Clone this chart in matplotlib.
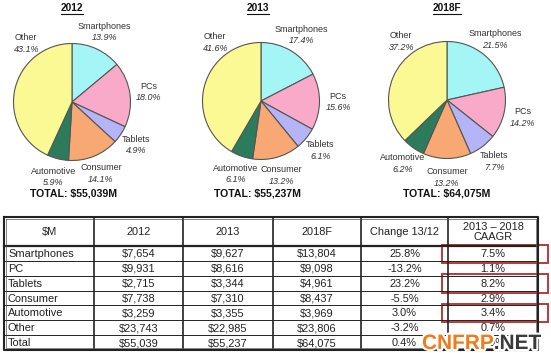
import matplotlib.pyplot as plt
import matplotlib.patheffects as pe
import numpy as np

plt.rcParams['font.family'] = ['Liberation Sans', 'DejaVu Sans']

# pie data (percent shares shown on the charts)
segments = ['Smartphones', 'PCs', 'Tablets', 'Consumer', 'Automotive', 'Other']
years = ['2012', '2013', '2018F']
share_2012 = [13.9, 18.0, 4.9, 14.1, 5.9, 43.1]
share_2013 = [17.4, 15.6, 6.1, 13.2, 6.1, 41.6]
share_2018 = [21.5, 14.2, 7.7, 13.2, 6.2, 37.2]
totals = ['TOTAL: $55,039M', 'TOTAL: $55,237M', 'TOTAL: $64,075M']
colors = ['#a4f6f6', '#f8aac8', '#b4b4f6', '#f8a872', '#2c7b5c', '#fbf994']

# table data
header = ['$M', '2012', '2013', '2018F', 'Change 13/12', '2013 \u2013 2018\nCAAGR']
row_names = ['Smartphones', 'PC', 'Tablets', 'Consumer', 'Automotive', 'Other', 'Total']
v2012 = ['$7,654', '$9,931', '$2,715', '$7,738', '$3,259', '$23,743', '$55,039']
v2013 = ['$9,627', '$8,616', '$3,344', '$7,310', '$3,355', '$22,985', '$55,237']
v2018 = ['$13,804', '$9,098', '$4,961', '$8,437', '$3,969', '$23,806', '$64,075']
change = ['25.8%', '-13.2%', '23.2%', '-5.5%', '3.0%', '-3.2%', '0.4%']
caagr = ['7.5%', '1.1%', '8.2%', '2.9%', '3.4%', '0.7%', '3.0%']
highlighted = ['Smartphones', 'Tablets', 'Automotive']

W, H = 551, 353
fig = plt.figure(figsize=(W / 100, H / 100), dpi=100)
fig.patch.set_facecolor('white')

# overlay axes in pixel coordinates
ov = fig.add_axes([0, 0, 1, 1])
ov.set_xlim(0, W)
ov.set_ylim(H, 0)
ov.axis('off')

# ---- pies ----
centers = [(72, 102), (261, 101), (447, 100)]
title_x = [72, 258, 447]
total_x = [74, 257, 447]
r = 58.5
txt_col = '#333333'
for k, shares in enumerate([share_2012, share_2013, share_2018]):
    cx, cy = centers[k]
    ax = fig.add_axes([(cx - 2 * r) / W, 1 - (cy + 2 * r) / H, 4 * r / W, 4 * r / H])
    wedges, _ = ax.pie(shares, colors=colors, startangle=90, counterclock=False,
                       wedgeprops=dict(edgecolor='#555555', linewidth=0.8))
    ax.set_xlim(-2, 2)
    ax.set_ylim(-2, 2)
    ax.set_aspect('equal')
    ax.axis('off')
    for w, name, s in zip(wedges, segments, shares):
        ang = np.deg2rad((w.theta1 + w.theta2) / 2)
        d = 1.32
        if name == 'Other':
            ang = np.deg2rad(128)
            d = 1.27
        x, y = d * np.cos(ang), d * np.sin(ang)
        ax.text(x, y + 0.1, name, ha='center', va='center', fontsize=6.5,
                color=txt_col, clip_on=False)
        ax.text(x, y - 0.1, f'{s:.1f}%', ha='center', va='center', fontsize=6.5,
                color=txt_col, style='italic', clip_on=False)

    ov.text(title_x[k], 8, years[k], ha='center', va='center',
            fontsize=7.3, fontweight='bold', color='#111111')
    ov.text(total_x[k], 193, totals[k], ha='center', va='center',
            fontsize=7.6, fontweight='bold', color='#111111')
    wdt = 2.5 * len(years[k]) * 2.2
    ov.plot([title_x[k] - wdt / 2, title_x[k] + wdt / 2], [13.5, 13.5],
            color='#111111', lw=0.8)

# ---- table ----
col_x = [4, 94, 183, 273, 361, 448, 538]
row_y = [217, 246] + [246 + 14.86 * (i + 1) for i in range(len(row_names))]
line_col = '#222222'

# row lines
for y in row_y[2:-1]:
    ov.plot([col_x[0], col_x[-1]], [y, y], color=line_col, lw=0.7)
ov.plot([col_x[0], col_x[-1]], [row_y[1], row_y[1]], color=line_col, lw=1.6)
# vertical lines
for x in col_x[1:-1]:
    ov.plot([x, x], [row_y[0], row_y[-1]], color=line_col, lw=1.2)
# outer border (double)
ov.plot([col_x[0], col_x[-1], col_x[-1], col_x[0], col_x[0]],
        [row_y[0], row_y[0], row_y[-1], row_y[-1], row_y[0]], color=line_col, lw=1.5)
ov.plot([col_x[0] + 2.2, col_x[-1] - 2.2, col_x[-1] - 2.2, col_x[0] + 2.2, col_x[0] + 2.2],
        [row_y[0] + 2.2, row_y[0] + 2.2, row_y[-1] - 2.2, row_y[-1] - 2.2, row_y[0] + 2.2],
        color='#555555', lw=0.5)

fs = 7.9
tc = '#222222'
for j, h in enumerate(header):
    xc = (col_x[j] + col_x[j + 1]) / 2
    ov.text(xc, (row_y[0] + row_y[1]) / 2 + 0.5, h, ha='center', va='center',
            fontsize=fs, color=tc, linespacing=1.0)

columns = [v2012, v2013, v2018, change, caagr]
for i, name in enumerate(row_names):
    yc = (row_y[i + 1] + row_y[i + 2]) / 2 + 0.5
    ov.text(col_x[0] + 4, yc, name, ha='left', va='center', fontsize=fs, color=tc)
    for j, col in enumerate(columns):
        xc = (col_x[j + 1] + col_x[j + 2]) / 2
        ov.text(xc, yc, col[i], ha='center', va='center', fontsize=fs, color=tc)
    if name in highlighted:
        ov.add_patch(plt.Rectangle((442, row_y[i + 1] - 1.5), 106,
                                   row_y[i + 2] - row_y[i + 1] + 3.5,
                                   fill=False, edgecolor='#b52a2a', lw=1.3))

# ---- watermark (covers the last CAAGR cells, as in the source image) ----
stroke = [pe.withStroke(linewidth=3, foreground='white')]
wm = ov.text(422, 349, 'CNFRP', ha='left', va='baseline', fontsize=15,
             fontweight='bold', color='#f27a1a', path_effects=stroke, zorder=5)
ov.annotate('.NET', xy=(1, 0), xycoords=wm, ha='left', va='bottom',
            fontsize=15, fontweight='bold', color='#3a3a3a', path_effects=stroke,
            zorder=5)

fig.savefig('out.png', dpi=100, facecolor='white')
